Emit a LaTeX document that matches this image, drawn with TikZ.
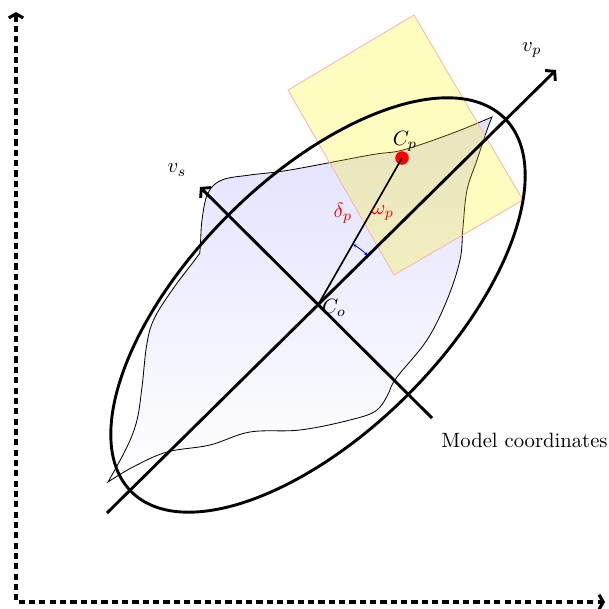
\documentclass[tikz,border=0pt]{standalone}
\usetikzlibrary{arrows.meta}

\begin{document}
\begin{tikzpicture}[x=0.017cm,y=0.017cm,
    axisline/.style={line width=1.5pt,dash pattern=on 3pt off 2pt,
      {Straight Barb[length=2pt,width=7pt]}-{Straight Barb[length=2pt,width=7pt]}},
    frameaxis/.style={line width=1.4pt,-{Straight Barb[length=3pt,width=7pt]}},
    anglemark/.style={blue,thin,{Stealth[length=2pt]}-{Stealth[length=2pt]}}]
    \useasboundingbox (0,0) rectangle (609,608);
    \coordinate (org) at (16,6);
    \coordinate (ytop) at (16,596);
    \coordinate (xend) at (605,6);
    \coordinate (co) at (318,303);
    \coordinate (vp0) at (107,95);
    \coordinate (vp1) at (556,538);
    \coordinate (vs0) at (432,190);
    \coordinate (vs1) at (200,421);
    % world axes
    \draw[axisline] (ytop) -- (org) -- (xend);
    % object outline
    \draw[line width=0.4pt,top color=blue!12,bottom color=white]
      plot[smooth,tension=0.6] coordinates {(492,491) (453,475) (403,458) (370,453)
        (290,438) (250,433) (222,428) (208,415) (202,388) (200,358) (197,351)
        (175,322) (155,291) (147,265) (142,221) (137,188) (127,161) (108,126)}
      -- plot[smooth,tension=0.6] coordinates {(108,126) (133,141) (167,156) (210,163)
        (250,176) (300,178) (350,188) (377,198) (390,218)}
      -- plot[smooth,tension=0.6] coordinates {(390,218) (397,231) (427,268) (447,308)
        (460,348) (463,381) (467,418) (477,448) (487,478) (492,491)}
      -- cycle;
    % patch
    \draw[red!30,fill=yellow,fill opacity=0.25]
      (288,518) -- (414,593) -- (523,408) -- (394,333) -- cycle;
    % bounding ellipse
    \draw[line width=1.4pt,rotate around={45:(co)}] (co) ellipse [x radius=264,y radius=127];
    % model axes
    \draw[frameaxis] (vp0) -- (vp1);
    \draw[frameaxis] (vs0) -- (vs1);
    \node (vplbl) at (532,558) {$v_p$};
    \node (vslbl) at (177,438) {$v_s$};
    \node[anchor=west,inner sep=0pt] (model) at (441,168) {Model coordinates};
    % patch centre
    \node[circle,fill=red,minimum size=2.3mm,inner sep=0pt] (cp) at (402,450) {};
    \draw[thick] (co) -- (cp.center);
    \node (cplbl) at (405,467) {$C_p$};
    \node (colbl) at (334,300) {$C_o$};
    \node[red] (dlbl) at (343,395) {$\delta_p$};
    \node[red] (wlbl) at (383,395) {$\omega_p$};
    \draw[anglemark] (co) ++(60.3:70) arc[start angle=60.3,end angle=44.6,radius=70];
\end{tikzpicture}
\end{document}
